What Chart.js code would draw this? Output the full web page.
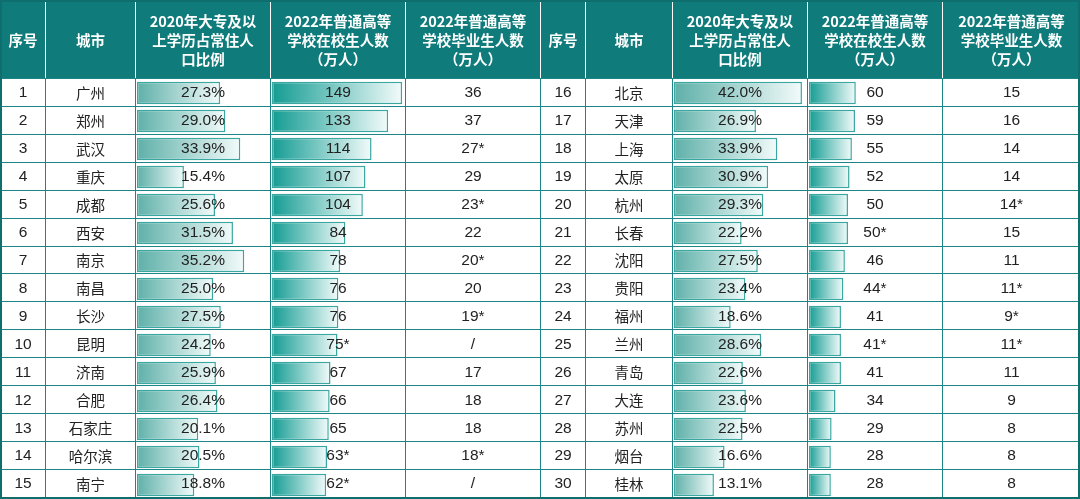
<!DOCTYPE html>
<html><head><meta charset="utf-8">
<script src="https://cdn.jsdelivr.net/npm/chart.js@4"></script>
<style>
body{margin:0;width:1080px;height:499px;overflow:hidden;background:#fff;font-family:"Noto Sans CJK SC","Noto Sans",sans-serif;}
#wrap{position:relative;width:1080px;height:499px;}
canvas{position:absolute;}
table{position:absolute;left:0;top:0;border-collapse:collapse;table-layout:fixed;width:1080px;height:498px;}
td,th{border:1.5px solid #1d8585;text-align:center;padding:0;color:#222;font-size:15.5px;font-family:"Liberation Sans","Noto Sans CJK SC",sans-serif;}
th{background:#0f7b7b;color:#fff;font-size:14.5px;font-weight:bold;height:77px;line-height:19px;font-family:"Noto Sans CJK SC",sans-serif;border-color:#fff;border-bottom-color:#1d8585}
td.c{font-family:"Noto Sans CJK SC",sans-serif;font-size:14.5px;}
#frame{position:absolute;left:0;top:0;width:1076px;height:495px;border:2px solid #0f6f6f;pointer-events:none}
</style></head><body><div id="wrap">
<canvas id="c1"></canvas><canvas id="c2"></canvas><canvas id="c3"></canvas><canvas id="c4"></canvas>
<table id="t"></table><div id="frame"></div></div>
<script>
const citiesL=["广州","郑州","武汉","重庆","成都","西安","南京","南昌","长沙","昆明","济南","合肥","石家庄","哈尔滨","南宁"];
const ratioL=[27.3,29.0,33.9,15.4,25.6,31.5,35.2,25.0,27.5,24.2,25.9,26.4,20.1,20.5,18.8];
const studL=[149,133,114,107,104,84,78,76,76,75,67,66,65,63,62];
const studLbL=["149","133","114","107","104","84","78","76","76","75*","67","66","65","63*","62*"];
const gradL=["36","37","27*","29","23*","22","20*","20","19*","/","17","18","18","18*","/"];
const citiesR=["北京","天津","上海","太原","杭州","长春","沈阳","贵阳","福州","兰州","青岛","大连","苏州","烟台","桂林"];
const ratioR=[42.0,26.9,33.9,30.9,29.3,22.2,27.5,23.4,18.6,28.6,22.6,23.6,22.5,16.6,13.1];
const studR=[60,59,55,52,50,50,46,44,41,41,41,34,29,28,28];
const studLbR=["60","59","55","52","50","50*","46","44*","41","41*","41","34","29","28","28"];
const gradR=["15","16","14","14","14*","15","11","11*","9*","11*","11","9","8","8","8"];
const headers=["序号","城市","2020年大专及以<br>上学历占常住人<br>口比例","2022年普通高等<br>学校在校生人数<br>（万人）","2022年普通高等<br>学校毕业生人数<br>（万人）"];
const widths=[45,90,135,135,135,45,87,135,135,138];
let h='<colgroup>'+widths.map(w=>`<col style="width:${w}px">`).join('')+'</colgroup><tr>'+headers.concat(headers).map(x=>`<th>${x}</th>`).join('')+'</tr>';
for(let i=0;i<15;i++){
 h+=`<tr><td>${i+1}</td><td class="c">${citiesL[i]}</td><td>${ratioL[i].toFixed(1)}%</td><td>${studLbL[i]}</td><td>${gradL[i]}</td>`+
 `<td>${i+16}</td><td class="c">${citiesR[i]}</td><td>${ratioR[i].toFixed(1)}%</td><td>${studLbR[i]}</td><td>${gradR[i]}</td></tr>`;
}
document.getElementById('t').innerHTML=h;
const top0=document.querySelector('#t tr:nth-child(2)').getBoundingClientRect().top;
const bot0=document.getElementById('t').getBoundingClientRect().bottom;
function mk(id,left,width,cities,vals,max,c0){
 const el=document.getElementById(id);const H=Math.round(bot0-top0);
 el.style.left=left+'px';el.style.top=top0+'px';el.style.width=width+'px';el.style.height=H+'px';
 el.width=width;el.height=H;
 new Chart(el,{type:'bar',data:{labels:cities,datasets:[{data:vals,borderWidth:1.5,borderColor:'#3aa8a0',borderSkipped:false,
  backgroundColor:(ctx)=>{const ch=ctx.chart;const sc=ch.scales&&ch.scales.x;if(!sc||ctx.raw==null)return c0;
   const x0=sc.getPixelForValue(0),x1=sc.getPixelForValue(ctx.raw);
   if(!isFinite(x0)||!isFinite(x1)||x1<=x0)return c0;
   const g=ch.ctx.createLinearGradient(x0,0,x1,0);g.addColorStop(0,c0);g.addColorStop(1,'#f2fbfa');return g;},
  barPercentage:0.8,categoryPercentage:1}]},
 options:{indexAxis:'y',responsive:false,animation:false,events:[],layout:{padding:{left:2,right:2,top:0,bottom:0}},
  plugins:{legend:{display:false},tooltip:{enabled:false}},
  scales:{x:{display:false,min:0,max:max},y:{display:false}}}});
}
mk('c1',135,135,citiesL,ratioL,43,'#5fb0a9');
mk('c2',270,135,citiesL,studL,150,'#149c93');
mk('c3',672,135,citiesR,ratioR,43,'#5fb0a9');
mk('c4',807,135,citiesR,studR,168,'#149c93');
</script></body></html>
